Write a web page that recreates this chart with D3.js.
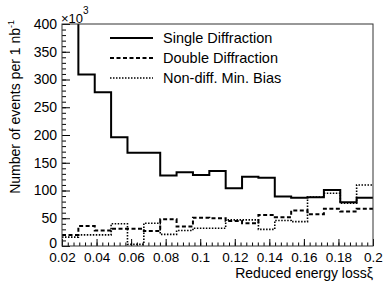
<!DOCTYPE html>
<html>
<head>
<meta charset="utf-8">
<script src="https://cdn.jsdelivr.net/npm/d3@7"></script>
<style>
  body { margin: 0; background: #fff; }
  text { font-family: "Liberation Sans", Arial, sans-serif; fill: #000; }
</style>
</head>
<body>
<script>
// page size matches the reference picture
var svg_width = 384;
var svg_height = 281;

// histogram binning: 19 equal bins between 0.02 and 0.2
var xiLow = 0.02;
var xiHigh = 0.2;
var nBins = 19;

// bin contents, in units of 10^3 events per 1 nb^-1
var singleDiff = [500, 309, 277, 196, 168, 168, 127, 133, 128, 135, 104, 125, 123, 89, 87, 88, 101, 79, 87];
var doubleDiff = [20, 36, 28, 31, 31, 27, 48, 35, 51, 50, 45, 41, 56, 52, 64, 57, 67, 62, 67];
var nonDiff = [16, 20, 20, 40, 3, 41, 21, 28, 32, 32, 47, 47, 30, 46, 44, 88, 95, 77, 110];

var series = [
    { name: "Single Diffraction", values: singleDiff, width: 2, dash: null },
    { name: "Double Diffraction", values: doubleDiff, width: 2, dash: "4,2.5" },
    { name: "Non-diff. Min. Bias", values: nonDiff, width: 1.6, dash: "1.5,1.5" }
];

// axis ticks
var xMajor = [0.02, 0.04, 0.06, 0.08, 0.1, 0.12, 0.14, 0.16, 0.18, 0.2];
var xLabels = ["0.02", "0.04", "0.06", "0.08", "0.1", "0.12", "0.14", "0.16", "0.18", "0.2"];
var yMajor = [0, 50, 100, 150, 200, 250, 300, 350, 400];

// frame of the plot area
var frame = { left: 62, right: 373, top: 24, bottom: 246 };

var svg = d3.select("body")
    .append("svg")
    .attr("width", svg_width)
    .attr("height", svg_height);

var x = d3.scaleLinear().domain([xiLow, xiHigh]).range([frame.left, frame.right]);
var y = d3.scaleLinear().domain([0, 400]).range([frame.bottom, frame.top]);

// bin edges along xi
var edges = d3.range(nBins + 1).map(function (i) { return xiLow + i * (xiHigh - xiLow) / nBins; });

svg.append("clipPath")
    .attr("id", "plotclip")
    .append("rect")
    .attr("x", frame.left)
    .attr("y", frame.top)
    .attr("width", frame.right - frame.left)
    .attr("height", frame.bottom - frame.top);

// the three histograms as step lines
var line = d3.line()
    .x(function (d) { return x(d[0]); })
    .y(function (d) { return y(d[1]); })
    .curve(d3.curveStepAfter);

series.slice().reverse().forEach(function (s) {
    var pts = s.values.map(function (v, i) { return [edges[i], v]; });
    pts.push([edges[nBins], s.values[nBins - 1]]);
    svg.append("path")
        .datum(pts)
        .attr("clip-path", "url(#plotclip)")
        .attr("fill", "none")
        .attr("stroke", "#000")
        .attr("stroke-width", s.width)
        .attr("stroke-dasharray", s.dash)
        .attr("d", line);
});

// x axis: inward ticks, major + minor
var xMinor = d3.range(0, 55).map(function (i) { return xiLow + i * 0.02 / 6; })
    .filter(function (v) { return v <= xiHigh + 1e-9; });

svg.append("g")
    .attr("transform", "translate(0," + frame.bottom + ")")
    .call(d3.axisBottom(x).tickValues(xMinor).tickSize(-3.5).tickFormat(""))
    .call(function (g) { g.select(".domain").remove(); });

svg.append("g")
    .attr("transform", "translate(0," + frame.bottom + ")")
    .call(d3.axisBottom(x).tickValues(xMajor).tickSize(-7).tickPadding(6)
        .tickFormat(function (d, i) { return xLabels[i]; }))
    .call(function (g) {
        g.select(".domain").remove();
        g.selectAll("text").attr("font-size", 13.5).attr("font-family", null);
    });

// y axis
var yMinor = d3.range(0, 401, 10);
svg.append("g")
    .attr("transform", "translate(" + frame.left + ",0)")
    .call(d3.axisLeft(y).tickValues(yMinor).tickSize(-4).tickFormat(""))
    .call(function (g) { g.select(".domain").remove(); });

svg.append("g")
    .attr("transform", "translate(" + frame.left + ",0)")
    .call(d3.axisLeft(y).tickValues(yMajor).tickSize(-8).tickPadding(5))
    .call(function (g) {
        g.select(".domain").remove();
        g.selectAll("text").attr("font-size", 14).attr("font-family", null);
        // lift the zero label a little so it clears the 0.02 label
        g.selectAll("text").filter(function (d) { return d === 0; }).attr("dy", "0.1em");
    });

// frame
svg.append("rect")
    .attr("x", frame.left)
    .attr("y", frame.top)
    .attr("width", frame.right - frame.left)
    .attr("height", frame.bottom - frame.top)
    .attr("fill", "none")
    .attr("stroke", "#333")
    .attr("stroke-width", 1);

// x10^3 multiplier
var mult = svg.append("text")
    .attr("x", frame.left - 1)
    .attr("y", 23)
    .attr("font-size", 13);
mult.append("tspan").text("\u00d710");
mult.append("tspan").attr("font-size", 10).attr("dy", -9).text("3");

// axis titles
svg.append("text")
    .attr("x", frame.right)
    .attr("y", 278)
    .attr("text-anchor", "end")
    .attr("font-size", 14)
    .text("Reduced energy loss\u03be");

var ytitle = svg.append("text")
    .attr("transform", "translate(20,20) rotate(-90)")
    .attr("text-anchor", "end")
    .attr("font-size", 14);
ytitle.append("tspan").text("Number of events per 1 nb");
ytitle.append("tspan").attr("font-size", 9).attr("dy", -6).text("-1");

// legend
var legend = svg.append("g");
series.forEach(function (s, i) {
    var ly = 38 + i * 20;
    legend.append("line")
        .attr("x1", 110).attr("x2", 153)
        .attr("y1", ly).attr("y2", ly)
        .attr("stroke", "#000")
        .attr("stroke-width", s.width)
        .attr("stroke-dasharray", s.dash);
    legend.append("text")
        .attr("x", 163)
        .attr("y", ly)
        .attr("dy", "0.36em")
        .attr("font-size", 14.5)
        .text(s.name);
});
</script>
</body>
</html>
